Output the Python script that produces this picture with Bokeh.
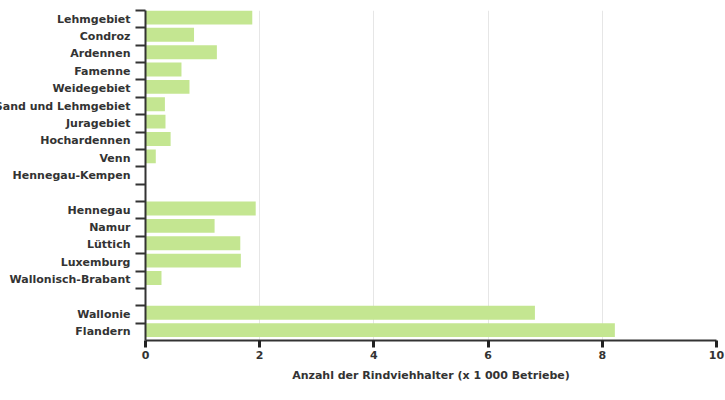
from bokeh.plotting import figure
from bokeh.models import Range1d, FixedTicker, ColumnDataSource
from bokeh.embed import file_html
from bokeh.resources import INLINE

# Categories from top to bottom ("" = empty spacer row)
categories = ["Lehmgebiet", "Condroz", "Ardennen", "Famenne", "Weidegebiet",
              "Sand und Lehmgebiet", "Juragebiet", "Hochardennen", "Venn",
              "Hennegau-Kempen", "", "Hennegau", "Namur", "Lüttich", "Luxemburg",
              "Wallonisch-Brabant", "", "Wallonie", "Flandern"]
values = [1.87, 0.85, 1.25, 0.63, 0.77, 0.34, 0.35, 0.44, 0.18,
          0.0, None, 1.93, 1.21, 1.66, 1.67, 0.28, None, 6.82, 8.22]
x_ticks = [0, 2, 4, 6, 8, 10]
x_title = "Anzahl der Rindviehhalter (x 1 000 Betriebe)"

n = len(categories)
tops = [n - i for i in range(n)]
bar_src = ColumnDataSource(dict(
    y=[t - 0.4 for t, v in zip(tops, values) if v is not None],
    v=[v for v in values if v is not None],
))
label_pos = [t - 0.5 for t in tops]

SHIFT = 20
p = figure(width=725 + SHIFT, height=400, output_backend="svg", toolbar_location=None,
           x_range=Range1d(0, 10), y_range=Range1d(0, n),
           min_border_left=145 + SHIFT, min_border_right=9, min_border_top=10,
           min_border_bottom=60)
p.styles = {"position": "relative", "left": f"-{SHIFT}px"}
p.outline_line_color = None
p.background_fill_color = "white"
p.border_fill_color = "white"

p.hbar(y="y", right="v", left=0, height=0.8, source=bar_src,
       fill_color="#c4e691", line_color=None)

# x axis
xa = p.xaxis[0]
xa.ticker = FixedTicker(ticks=x_ticks)
xa.axis_line_color = "#333333"
xa.axis_line_width = 2
xa.major_tick_line_color = "#222222"
xa.major_tick_line_width = 3
xa.major_tick_out = 7
xa.major_tick_in = 0
xa.minor_tick_line_color = None
xa.major_label_standoff = 3
xa.major_label_text_font = "DejaVu Sans"
xa.major_label_text_font_style = "bold"
xa.major_label_text_font_size = "11px"
xa.major_label_text_color = "#333333"
xa.axis_label = x_title
xa.axis_label_text_font = "DejaVu Sans"
xa.axis_label_text_font_style = "bold"
xa.axis_label_text_font_size = "11px"
xa.axis_label_text_color = "#333333"
xa.axis_label_standoff = 7

# y axis: ticks at category boundaries, labels at row centres
ya = p.yaxis[0]
ya.ticker = FixedTicker(ticks=label_pos, minor_ticks=list(range(1, n + 1)))
ya.major_label_overrides = {lp: c for lp, c in zip(label_pos, categories)}
ya.axis_line_color = "#333333"
ya.axis_line_width = 2
ya.major_tick_line_color = None
ya.major_tick_out = 0
ya.major_tick_in = 0
ya.minor_tick_line_color = "#333333"
ya.minor_tick_line_width = 2
ya.minor_tick_out = 10
ya.minor_tick_in = 0
ya.major_label_standoff = 5
ya.major_label_text_font = "DejaVu Sans"
ya.major_label_text_font_style = "bold"
ya.major_label_text_font_size = "11px"
ya.major_label_text_color = "#333333"

p.xgrid.grid_line_color = "#e6e6e6"
p.xgrid.grid_line_width = 1
p.ygrid.grid_line_color = None

open("out.html", "w").write(file_html(p, INLINE))
